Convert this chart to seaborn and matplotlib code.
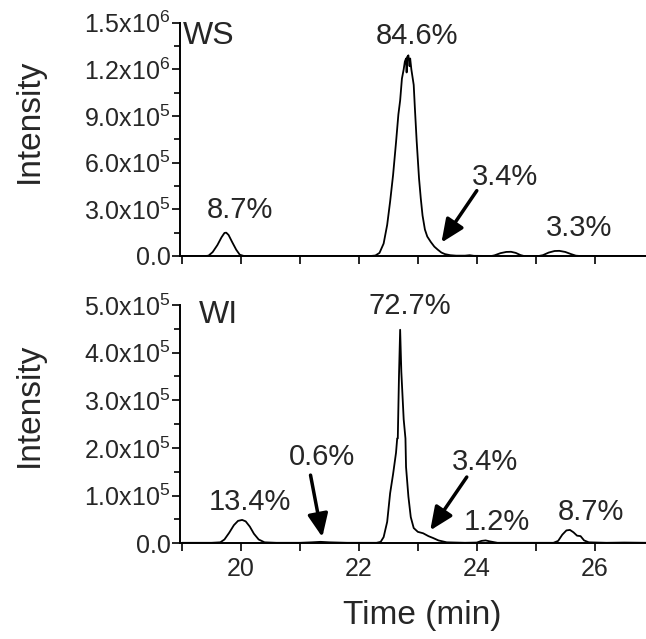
import numpy as np
import matplotlib
matplotlib.use('Agg')
import matplotlib.pyplot as plt
from matplotlib.ticker import MultipleLocator, FuncFormatter
import seaborn as sns

# WS trace (time in min, intensity)
ws_time = [19.00, 19.40, 19.45, 19.52, 19.60, 19.67, 19.72, 19.75, 19.79, 19.85, 19.92, 19.98, 20.05,
           22.20, 22.28, 22.35, 22.42, 22.48, 22.53, 22.58, 22.63, 22.67, 22.70, 22.73, 22.76, 22.78,
           22.80, 22.81, 22.82, 22.84, 22.86, 22.87, 22.89, 22.91, 22.93, 22.95, 22.98, 23.02, 23.05,
           23.08, 23.12, 23.16, 23.22, 23.28, 23.34, 23.40, 23.46, 23.55, 23.65, 23.80, 23.88, 23.95,
           24.25, 24.30, 24.40, 24.50, 24.58, 24.66, 24.74, 24.80, 25.05, 25.12, 25.22, 25.32, 25.40,
           25.50, 25.60, 25.68, 25.75, 26.90]
ws_int = [0, 0, 2e3, 2.5e4, 7e4, 1.2e5, 1.48e5, 1.5e5, 1.35e5, 9e4, 4e4, 8e3, 0,
          0, 3e3, 2e4, 8e4, 2.0e5, 3.5e5, 5.2e5, 7.3e5, 9.1e5, 1.0e6, 1.14e6, 1.20e6, 1.25e6,
          1.27e6, 1.18e6, 1.28e6, 1.29e6, 1.22e6, 1.27e6, 1.20e6, 1.15e6, 1.10e6, 9.5e5, 7.4e5, 5.0e5, 3.7e5,
          2.6e5, 1.7e5, 1.25e5, 9e4, 6e4, 4e4, 2.2e4, 1.2e4, 5e3, 2e3, 2e3, 5e3, 1e3,
          0, 4e3, 1.8e4, 2.6e4, 2.7e4, 2e4, 6e3, 0, 0, 5e3, 2.2e4, 3.2e4, 3.3e4,
          2.6e4, 1.2e4, 2e3, 0, 0]

# WI trace
wi_time = [19.00, 19.50, 19.65, 19.72, 19.80, 19.88, 19.95, 20.02, 20.08, 20.15, 20.22, 20.30, 20.40,
           20.60, 21.00, 21.20, 21.35, 21.50, 21.80, 22.30, 22.37, 22.42, 22.48, 22.53, 22.58, 22.63,
           22.65, 22.66, 22.68, 22.70, 22.72, 22.76, 22.79, 22.80, 22.84, 22.88, 22.93, 23.00, 23.09,
           23.18, 23.26, 23.35, 23.49, 23.80, 24.00, 24.08, 24.15, 24.22, 24.35, 25.30, 25.38, 25.45,
           25.52, 25.58, 25.64, 25.70, 25.76, 25.82, 25.90, 26.20, 26.50, 26.90]
wi_int = [1e3, 1e3, 2e3, 8e3, 2.2e4, 3.8e4, 4.7e4, 4.9e4, 4.6e4, 3.5e4, 2e4, 8e3, 2e3,
          1e3, 1e3, 2e3, 3e3, 2e3, 1e3, 1e3, 3e3, 1.3e4, 4.5e4, 1.05e5, 1.45e5, 1.9e5,
          2.2e5, 2.2e5, 3.5e5, 4.48e5, 3.6e5, 2.6e5, 2.2e5, 1.6e5, 9.8e4, 5.5e4, 3.2e4, 2.4e4, 2.1e4,
          1.5e4, 1.1e4, 6e3, 2e3, 1e3, 1.5e3, 5e3, 6e3, 4e3, 1e3, 1e3, 5e3, 1.8e4,
          2.7e4, 2.8e4, 2.3e4, 1.6e4, 1.5e4, 6e3, 2e3, 1e3, 1.5e3, 1e3]

# peak labels: (text, x, y)
ws_labels = [('8.7%', 19.98, 2.96e5), ('84.6%', 22.99, 1.416e6), ('3.4%', 24.48, 5.08e5), ('3.3%', 25.74, 1.8e5)]
wi_labels = [('13.4%', 20.15, 8.6e4), ('0.6%', 21.37, 1.8e5), ('72.7%', 22.87, 4.97e5),
             ('3.4%', 24.14, 1.70e5), ('1.2%', 24.34, 4.5e4), ('8.7%', 25.94, 6.5e4)]
# arrows: (tail, head)
ws_arrows = [((24.0, 4.2e5), (23.40, 8.6e4))]
wi_arrows = [((21.18, 1.43e5), (21.38, 1.3e4)), ((23.83, 1.39e5), (23.21, 2.7e4))]

sns.set_theme(style='ticks')
plt.rcParams['font.family'] = ['Liberation Sans', 'DejaVu Sans']
plt.rcParams['mathtext.fontset'] = 'custom'
plt.rcParams['mathtext.rm'] = 'Liberation Sans'
plt.rcParams['mathtext.default'] = 'regular'


def sci_fmt(v, pos):
    if v <= 0:
        return '0.0' if abs(v) < 1 else ''
    e = int(np.floor(np.log10(v) + 1e-9))
    m = v / 10**e
    return '%.1fx10$^{%d}$' % (m, e)


fig = plt.figure(figsize=(6.46, 6.39), dpi=100)
ax1 = fig.add_axes([0.279, 0.5994, 0.721, 0.3651])
ax2 = fig.add_axes([0.279, 0.1498, 0.721, 0.3729])

panels = [(ax1, ws_time, ws_int, 1.5e6, 3e5, 1.5e5, 'WS', (19.02, 1.416e6), ws_labels, ws_arrows),
          (ax2, wi_time, wi_int, 5e5, 1e5, 5e4, 'WI', (19.29, 4.79e5), wi_labels, wi_arrows)]

for ax, t, y, ymax, maj, mnr, name, npos, labels, arrows in panels:
    sns.lineplot(x=t, y=y, ax=ax, color='black', lw=1.3)
    ax.set_xlim(18.97, 26.87)
    ax.set_ylim(0, ymax)
    ax.yaxis.set_major_locator(MultipleLocator(maj))
    ax.yaxis.set_minor_locator(MultipleLocator(mnr))
    ax.xaxis.set_major_locator(MultipleLocator(2))
    ax.xaxis.set_minor_locator(MultipleLocator(1))
    ax.yaxis.set_major_formatter(FuncFormatter(sci_fmt))
    sns.despine(ax=ax)
    for s in ['left', 'bottom']:
        ax.spines[s].set_linewidth(1.4)
        ax.spines[s].set_color('black')
    ax.tick_params(which='major', length=6, width=1.2, color='black', labelsize=18, pad=1)
    ax.tick_params(which='minor', length=4, width=1.2, color='black')
    ax.tick_params(axis='x', which='both', length=6, pad=4)
    ax.set_ylabel('Intensity', fontsize=24)
    ax.yaxis.set_label_coords(-0.29, 0.58)
    ax.text(npos[0], npos[1], name, fontsize=23, ha='left', va='center')
    for txt, lx, ly in labels:
        ax.text(lx, ly, txt, fontsize=21, ha='center', va='center')
    for tail, head in arrows:
        ax.annotate('', xy=head, xytext=tail,
                    arrowprops=dict(arrowstyle='-|>,head_length=0.5,head_width=0.22', color='black',
                                    lw=2.5, mutation_scale=28, shrinkA=0, shrinkB=0))

ax1.tick_params(axis='x', labelbottom=False)
ax1.set_xlabel('')
ax2.set_xlabel('Time (min)', fontsize=24)
ax2.xaxis.set_label_coords(0.52, -0.24)

fig.savefig('out.png', dpi=100)
